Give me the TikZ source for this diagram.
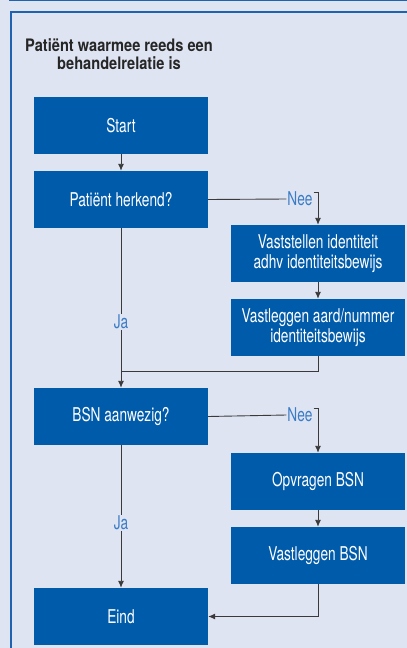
\documentclass[tikz,border=0pt]{standalone}
\usepackage{fontspec}
\setmainfont[FakeStretch=0.72]{TeX Gyre Heros}
\newfontfamily\titlefont[FakeStretch=0.85]{TeX Gyre Heros}
\usetikzlibrary{arrows.meta}
\definecolor{paper}{HTML}{DFE4F2}
\definecolor{boxblue}{HTML}{005BAA}
\definecolor{framblue}{HTML}{1F62B0}
\definecolor{answerblue}{HTML}{3A7CC6}
\definecolor{linegray}{HTML}{3A3A3A}

\begin{document}
\begin{tikzpicture}[
		x=1pt, y=-1pt,
		proc/.style={rectangle,fill=boxblue,text=white,align=center,
		inner sep=0pt,minimum width=174pt,minimum height=57pt,
		font=\fontsize{19}{19.5}\selectfont},
		flow/.style={draw=linegray,line width=0.9pt},
		arrow/.style={flow,-{Latex[length=7pt,width=6pt]}},
		answer/.style={text=answerblue,inner sep=1pt,font=\fontsize{19}{20}\selectfont}
		]
		\useasboundingbox (0,0) rectangle (407,648);
		\fill[paper] (0,0) rectangle (407,648);
		\draw[framblue,line width=1.2pt] (10,-2) -- (10,0.6) -- (407,0.6);
		\draw[framblue,line width=2pt] (407,12) -- (11,12) -- (11,650);
		\node[font=\titlefont\bfseries\fontsize{17.2}{18.5}\selectfont,text=black!85,align=center] (title) at (119,54)
			{Patiënt waarmee reeds een\\behandelrelatie is};
		% linker kolom
		\node[proc] (start) at (121,125.5) {Start};
		\node[proc] (herkend) at (121,199.5) {Patiënt herkend?};
		\node[proc] (bsn) at (121,416.5) {BSN aanwezig?};
		\node[proc] (eind) at (121,616.5) {Eind};
		% rechter kolom
		\node[proc] (vaststellen) at (318,253.5) {Vaststellen identiteit\\adhv identiteitsbewijs};
		\node[proc] (vastleggen) at (318,327.5) {Vastleggen aard/nummer\\identiteitsbewijs};
		\node[proc] (opvragen) at (318,481.5) {Opvragen BSN};
		\node[proc] (bsnleggen) at (318,555.5) {Vastleggen BSN};
		% antwoorden
		\node[answer] (nee1) at (300,199) {Nee};
		\node[answer] (ja1) at (121,322) {Ja};
		\node[answer] (nee2) at (300,415) {Nee};
		\node[answer] (ja2) at (121,523) {Ja};
		\coordinate (samen) at (121,371);
		% verbindingen
		\draw[arrow] (start) -- (herkend);
		\draw[flow] (herkend.east) -- (nee1.west);
		\draw[arrow] (nee1.north east) ++(0,2) -| (vaststellen.north);
		\draw[arrow] (vaststellen) -- (vastleggen);
		\draw[flow] (herkend.south) -- (ja1.north);
		\draw[arrow] (ja1.south) -- (bsn.north);
		\draw[flow] (vastleggen.south) |- (samen);
		\draw[flow] (bsn.east) -- (nee2.west);
		\draw[arrow] (nee2.north east) ++(0,2) -| (opvragen.north);
		\draw[arrow] (opvragen) -- (bsnleggen);
		\draw[flow] (bsn.south) -- (ja2.north);
		\draw[arrow] (ja2.south) -- (eind.north);
		\draw[arrow] (bsnleggen.south) |- (eind.east);
	\end{tikzpicture}
\end{document}
